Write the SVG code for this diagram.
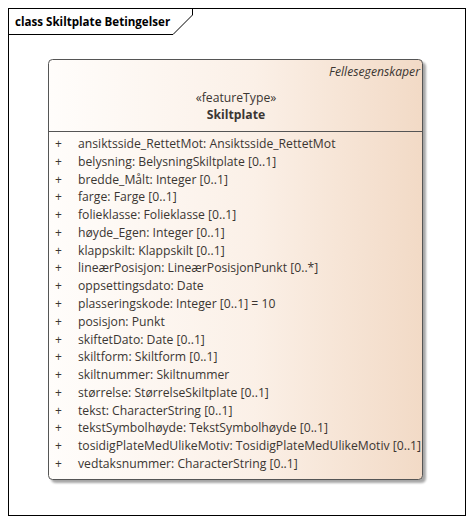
<svg xmlns="http://www.w3.org/2000/svg" width="474" height="524" viewBox="0 0 474 524">
<style>
.t{font-family:"Open Sans","Noto Sans",sans-serif;font-size:12.2px;fill:#3b3632}
.p{font-family:"Open Sans","Noto Sans",sans-serif;font-size:12px;fill:#3b3632}
</style>
<defs>
<linearGradient id="g" x1="0" y1="0" x2="1" y2="0">
<stop offset="0" stop-color="#fffdfb"/>
<stop offset="0.55" stop-color="#fbf0e7"/>
<stop offset="1" stop-color="#f2dac6"/>
</linearGradient>
<filter id="sh" x="-5%" y="-5%" width="110%" height="110%">
<feGaussianBlur in="SourceAlpha" stdDeviation="1.2"/>
<feOffset dx="3" dy="3"/>
<feComponentTransfer><feFuncA type="linear" slope="0.35"/></feComponentTransfer>
<feMerge><feMergeNode/><feMergeNode in="SourceGraphic"/></feMerge>
</filter>
</defs>
<rect width="474" height="524" fill="#ffffff"/>
<g id="frame">
<rect x="8.5" y="8.5" width="457" height="507" fill="none" stroke="#000" stroke-width="1"/>
<path d="M8.5 34.5 H173 L192.5 15 V8.5" fill="none" stroke="#000" stroke-width="1"/>
<text x="15" y="26" font-family="Open Sans,Noto Sans,sans-serif" font-size="11.6" font-weight="bold" fill="#000">class Skiltplate Betingelser</text>
</g>
<g id="Skiltplate">
<rect x="48.5" y="59.5" width="374" height="420" rx="4" fill="url(#g)" stroke="#555" stroke-width="1" filter="url(#sh)"/>
<line x1="48.5" y1="131.5" x2="422.5" y2="131.5" stroke="#555" stroke-width="1"/>
<text x="420" y="76" text-anchor="end" class="t" font-style="italic">Fellesegenskaper</text>
<text x="236" y="102" text-anchor="middle" class="t">«featureType»</text>
<text x="236" y="119" text-anchor="middle" class="t" font-weight="bold">Skiltplate</text>
<g class="p">
<text x="55" y="148">+</text><text x="55" y="165.8">+</text><text x="55" y="183.6">+</text><text x="55" y="201.3">+</text><text x="55" y="219.1">+</text><text x="55" y="236.9">+</text><text x="55" y="254.7">+</text><text x="55" y="272.4">+</text><text x="55" y="290.2">+</text><text x="55" y="308">+</text><text x="55" y="325.8">+</text><text x="55" y="343.6">+</text><text x="55" y="361.3">+</text><text x="55" y="379.1">+</text><text x="55" y="396.9">+</text><text x="55" y="414.7">+</text><text x="55" y="432.4">+</text><text x="55" y="450.2">+</text><text x="55" y="468">+</text>
</g>
<g class="t">
<text x="78" y="148">ansiktsside_RettetMot: Ansiktsside_RettetMot</text>
<text x="78" y="165.8">belysning: BelysningSkiltplate [0..1]</text>
<text x="78" y="183.6">bredde_Målt: Integer [0..1]</text>
<text x="78" y="201.3">farge: Farge [0..1]</text>
<text x="78" y="219.1">folieklasse: Folieklasse [0..1]</text>
<text x="78" y="236.9">høyde_Egen: Integer [0..1]</text>
<text x="78" y="254.7">klappskilt: Klappskilt [0..1]</text>
<text x="78" y="272.4">lineærPosisjon: LineærPosisjonPunkt [0..*]</text>
<text x="78" y="290.2">oppsettingsdato: Date</text>
<text x="78" y="308">plasseringskode: Integer [0..1] = 10</text>
<text x="78" y="325.8">posisjon: Punkt</text>
<text x="78" y="343.6">skiftetDato: Date [0..1]</text>
<text x="78" y="361.3">skiltform: Skiltform [0..1]</text>
<text x="78" y="379.1">skiltnummer: Skiltnummer</text>
<text x="78" y="396.9">størrelse: StørrelseSkiltplate [0..1]</text>
<text x="78" y="414.7">tekst: CharacterString [0..1]</text>
<text x="78" y="432.4">tekstSymbolhøyde: TekstSymbolhøyde [0..1]</text>
<text x="78" y="450.2">tosidigPlateMedUlikeMotiv: TosidigPlateMedUlikeMotiv [0..1]</text>
<text x="78" y="468">vedtaksnummer: CharacterString [0..1]</text>
</g>
</g>
<g id="connectors"/>
</svg>
